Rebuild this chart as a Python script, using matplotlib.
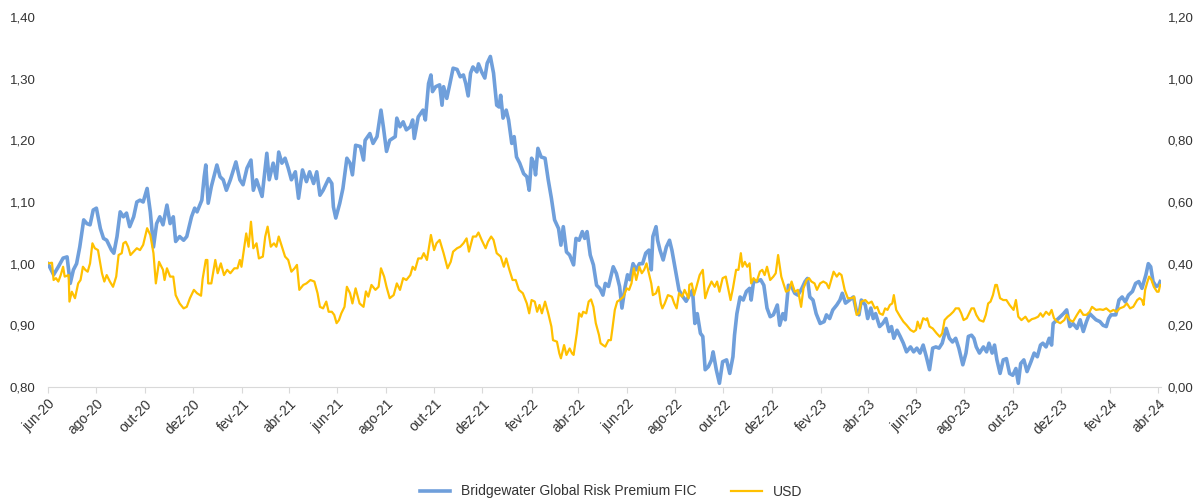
import matplotlib
matplotlib.use('Agg')
import matplotlib.pyplot as plt
import pandas as pd
import numpy as np

start = pd.Timestamp('2020-06-01')

# Bridgewater Global Risk Premium FIC (left axis): day offset from 2020-06-01, value
bw_days = [0, 7, 13, 19, 24, 28, 32, 36, 40, 45, 49, 53, 57, 61, 66, 70, 74, 80, 83, 87,
           91, 95, 99, 103, 108, 112, 116, 120, 125, 129, 133, 137, 141, 145, 150, 154, 158, 161, 166, 171,
           175, 181, 185, 188, 194, 197, 199, 202, 206, 213, 217, 221, 225, 230, 237, 242, 246, 251, 256, 259,
           263, 270, 276, 279, 284, 288, 291, 295, 299, 303, 307, 312, 316, 321, 326, 330, 335, 339, 343, 347,
           354, 358, 360, 363, 368, 372, 377, 381, 384, 388, 394, 398, 400, 406, 410, 415, 420, 423, 427, 431,
           438, 440, 444, 448, 452, 457, 460, 462, 467, 473, 476, 480, 483, 485, 489, 494, 497, 499, 503, 507,
           511, 516, 520, 524, 527, 530, 533, 536, 541, 543, 547, 551, 554, 558, 562, 566, 569, 571, 574, 578,
           581, 585, 588, 591, 595, 600, 604, 607, 610, 613, 615, 618, 622, 627, 631, 635, 639, 644, 647, 650,
           654, 658, 663, 666, 670, 674, 677, 680, 684, 688, 692, 696, 700, 703, 707, 710, 713, 717, 721, 724,
           728, 731, 734, 738, 742, 746, 750, 754, 758, 761, 763, 767, 769, 772, 776, 780, 784, 787, 790, 793,
           796, 800, 805, 809, 813, 816, 819, 823, 826, 829, 833, 837, 839, 843, 847, 851, 856, 860, 864, 866,
           869, 873, 877, 881, 885, 887, 890, 894, 899, 903, 907, 911, 915, 920, 923, 927, 930, 934, 938, 942,
           946, 951, 955, 958, 961, 965, 969, 974, 979, 982, 986, 990, 995, 999, 1002, 1006, 1011, 1016, 1020, 1023,
           1026, 1031, 1034, 1038, 1041, 1044, 1049, 1053, 1057, 1061, 1064, 1067, 1071, 1075, 1079, 1083, 1088, 1092, 1096, 1100,
           1104, 1108, 1112, 1116, 1120, 1124, 1128, 1133, 1137, 1141, 1145, 1149, 1154, 1158, 1161, 1165, 1168, 1171, 1175, 1180,
           1184, 1187, 1191, 1194, 1197, 1201, 1205, 1209, 1213, 1217, 1221, 1224, 1227, 1231, 1235, 1240, 1244, 1248, 1252, 1255,
           1259, 1263, 1266, 1268, 1273, 1277, 1281, 1285, 1289, 1293, 1298, 1302, 1306, 1310, 1314, 1318, 1322, 1327, 1331, 1335,
           1338, 1341, 1347, 1351, 1355, 1359, 1363, 1368, 1372, 1376, 1380, 1385, 1388, 1391, 1394, 1398, 1401, 1403]
bw_vals = [1.000, 0.982, 0.995, 1.009, 1.011, 0.968, 0.990, 1.000, 1.027, 1.071, 1.065, 1.063, 1.087, 1.090, 1.057, 1.041, 1.038, 1.022, 1.017, 1.044,
           1.084, 1.076, 1.082, 1.060, 1.076, 1.100, 1.103, 1.100, 1.122, 1.084, 1.027, 1.065, 1.076, 1.063, 1.095, 1.065, 1.076, 1.036, 1.044, 1.038,
           1.044, 1.076, 1.090, 1.084, 1.103, 1.141, 1.160, 1.098, 1.125, 1.160, 1.141, 1.136, 1.119, 1.136, 1.165, 1.136, 1.128, 1.155, 1.168, 1.119,
           1.136, 1.109, 1.179, 1.136, 1.163, 1.138, 1.181, 1.163, 1.171, 1.155, 1.136, 1.149, 1.106, 1.152, 1.133, 1.149, 1.130, 1.149, 1.111, 1.119,
           1.138, 1.130, 1.092, 1.074, 1.098, 1.122, 1.171, 1.163, 1.144, 1.192, 1.190, 1.168, 1.200, 1.211, 1.195, 1.206, 1.249, 1.222, 1.182, 1.200,
           1.206, 1.236, 1.222, 1.230, 1.217, 1.222, 1.233, 1.203, 1.238, 1.249, 1.233, 1.292, 1.306, 1.279, 1.287, 1.290, 1.257, 1.287, 1.268, 1.292,
           1.317, 1.315, 1.303, 1.306, 1.292, 1.272, 1.309, 1.319, 1.311, 1.324, 1.311, 1.301, 1.325, 1.336, 1.309, 1.257, 1.254, 1.273, 1.236, 1.249,
           1.233, 1.195, 1.206, 1.173, 1.163, 1.146, 1.141, 1.119, 1.171, 1.163, 1.144, 1.187, 1.173, 1.171, 1.136, 1.106, 1.071, 1.057, 1.030, 1.060,
           1.019, 1.014, 0.998, 1.041, 1.038, 1.052, 1.041, 1.052, 1.014, 0.998, 0.965, 0.960, 0.949, 0.968, 0.963, 0.979, 0.995, 0.984, 0.963, 0.928,
           0.963, 0.982, 0.974, 1.000, 0.990, 1.000, 1.000, 1.017, 1.022, 0.990, 1.044, 1.060, 1.038, 1.022, 1.006, 1.027, 1.038, 1.022, 1.000, 0.979,
           0.957, 0.948, 0.939, 0.949, 0.957, 0.903, 0.919, 0.887, 0.882, 0.828, 0.833, 0.844, 0.857, 0.828, 0.806, 0.841, 0.844, 0.822, 0.849, 0.884,
           0.919, 0.946, 0.941, 0.955, 0.960, 0.941, 0.971, 0.971, 0.974, 0.965, 0.928, 0.914, 0.917, 0.933, 0.900, 0.919, 0.909, 0.965, 0.963, 0.952,
           0.949, 0.960, 0.971, 0.976, 0.946, 0.941, 0.919, 0.903, 0.906, 0.917, 0.911, 0.925, 0.933, 0.941, 0.952, 0.936, 0.941, 0.946, 0.922, 0.917,
           0.941, 0.933, 0.911, 0.928, 0.911, 0.919, 0.898, 0.903, 0.911, 0.890, 0.898, 0.879, 0.892, 0.882, 0.871, 0.857, 0.865, 0.857, 0.863, 0.855,
           0.868, 0.849, 0.828, 0.863, 0.865, 0.863, 0.871, 0.895, 0.879, 0.873, 0.879, 0.863, 0.836, 0.855, 0.882, 0.884, 0.879, 0.865, 0.855, 0.865,
           0.857, 0.871, 0.855, 0.868, 0.844, 0.822, 0.844, 0.846, 0.822, 0.819, 0.830, 0.806, 0.838, 0.844, 0.825, 0.841, 0.855, 0.849, 0.868, 0.871,
           0.865, 0.879, 0.868, 0.903, 0.909, 0.914, 0.919, 0.925, 0.898, 0.903, 0.895, 0.909, 0.890, 0.906, 0.919, 0.914, 0.909, 0.906, 0.900, 0.898,
           0.911, 0.917, 0.917, 0.941, 0.946, 0.938, 0.949, 0.955, 0.968, 0.971, 0.960, 0.982, 1.000, 0.995, 0.971, 0.963, 0.965, 0.971]

# USD (right axis): day offset from 2020-06-01, value
usd_days = [0, 5, 7, 10, 13, 16, 19, 21, 26, 27, 30, 34, 38, 41, 44, 47, 50, 53, 56, 59,
            63, 68, 71, 74, 78, 82, 86, 89, 93, 95, 98, 101, 104, 108, 112, 116, 120, 125, 129, 133,
            136, 140, 145, 147, 150, 154, 158, 161, 166, 171, 175, 179, 184, 188, 193, 195, 199, 201, 202, 206,
            211, 214, 218, 222, 226, 230, 235, 239, 242, 244, 247, 250, 253, 256, 259, 263, 266, 271, 274, 277,
            281, 285, 288, 291, 295, 299, 303, 307, 311, 314, 317, 322, 326, 331, 336, 340, 343, 347, 351, 354,
            358, 361, 364, 367, 370, 374, 377, 381, 384, 388, 393, 398, 401, 404, 408, 413, 417, 420, 424, 427,
            431, 436, 440, 444, 448, 452, 457, 460, 463, 467, 471, 474, 478, 483, 487, 490, 494, 499, 504, 508,
            511, 516, 520, 524, 528, 531, 536, 540, 543, 547, 552, 555, 559, 562, 566, 571, 575, 578, 582, 586,
            590, 594, 599, 604, 607, 610, 614, 617, 620, 623, 627, 631, 635, 637, 642, 645, 647, 651, 654, 658,
            661, 663, 667, 670, 673, 675, 679, 682, 685, 688, 691, 695, 697, 700, 703, 707, 710, 712, 715, 718,
            721, 726, 730, 733, 736, 739, 742, 746, 749, 752, 755, 758, 761, 763, 767, 770, 773, 775, 778, 782,
            787, 790, 793, 796, 800, 803, 808, 809, 812, 815, 818, 822, 826, 829, 833, 837, 841, 844, 847, 851,
            855, 858, 861, 864, 868, 871, 874, 876, 879, 882, 885, 887, 890, 894, 898, 901, 904, 907, 911, 915,
            918, 921, 925, 927, 931, 935, 938, 942, 946, 950, 953, 957, 960, 963, 967, 970, 974, 978, 982, 985,
            988, 991, 995, 998, 1001, 1005, 1009, 1014, 1017, 1020, 1023, 1026, 1031, 1035, 1039, 1043, 1046, 1049, 1053, 1056,
            1059, 1062, 1065, 1067, 1070, 1075, 1079, 1083, 1088, 1092, 1095, 1097, 1100, 1104, 1108, 1109, 1112, 1116, 1121, 1125,
            1128, 1131, 1135, 1138, 1142, 1145, 1149, 1152, 1155, 1159, 1162, 1165, 1168, 1171, 1175, 1180, 1183, 1186, 1189, 1192,
            1195, 1197, 1201, 1205, 1209, 1213, 1218, 1221, 1224, 1228, 1233, 1237, 1241, 1245, 1249, 1252, 1255, 1259, 1263, 1266,
            1269, 1273, 1277, 1282, 1285, 1289, 1293, 1298, 1302, 1306, 1310, 1314, 1317, 1322, 1327, 1331, 1335, 1340, 1344, 1348,
            1352, 1357, 1361, 1365, 1369, 1374, 1377, 1380, 1382, 1384, 1387, 1389, 1392, 1395, 1399, 1401, 1403]
usd_vals = [0.401, 0.403, 0.347, 0.353, 0.342, 0.363, 0.390, 0.358, 0.363, 0.277, 0.309, 0.288, 0.336, 0.347, 0.390, 0.380, 0.374, 0.401, 0.466, 0.450,
            0.444, 0.369, 0.342, 0.363, 0.342, 0.325, 0.358, 0.428, 0.434, 0.466, 0.471, 0.455, 0.428, 0.439, 0.450, 0.444, 0.461, 0.515, 0.493, 0.434,
            0.336, 0.406, 0.380, 0.347, 0.385, 0.358, 0.358, 0.298, 0.271, 0.255, 0.260, 0.288, 0.315, 0.304, 0.296, 0.350, 0.412, 0.412, 0.336, 0.336,
            0.412, 0.369, 0.401, 0.363, 0.380, 0.369, 0.385, 0.385, 0.412, 0.390, 0.444, 0.498, 0.455, 0.536, 0.450, 0.466, 0.417, 0.423, 0.488, 0.520,
            0.455, 0.466, 0.455, 0.488, 0.455, 0.423, 0.412, 0.374, 0.385, 0.396, 0.315, 0.331, 0.336, 0.347, 0.342, 0.304, 0.260, 0.255, 0.277, 0.244,
            0.244, 0.234, 0.207, 0.217, 0.239, 0.260, 0.325, 0.304, 0.271, 0.320, 0.271, 0.260, 0.310, 0.293, 0.331, 0.315, 0.325, 0.385, 0.358, 0.325,
            0.288, 0.298, 0.336, 0.315, 0.353, 0.347, 0.363, 0.390, 0.380, 0.417, 0.417, 0.434, 0.412, 0.493, 0.444, 0.466, 0.477, 0.434, 0.385, 0.406,
            0.439, 0.450, 0.455, 0.466, 0.482, 0.439, 0.488, 0.488, 0.501, 0.477, 0.450, 0.471, 0.488, 0.477, 0.434, 0.423, 0.390, 0.417, 0.380, 0.347,
            0.347, 0.315, 0.304, 0.271, 0.239, 0.282, 0.277, 0.244, 0.266, 0.239, 0.277, 0.239, 0.196, 0.152, 0.147, 0.109, 0.093, 0.136, 0.104, 0.125,
            0.109, 0.104, 0.174, 0.239, 0.228, 0.244, 0.239, 0.277, 0.284, 0.260, 0.207, 0.169, 0.142, 0.136, 0.131, 0.152, 0.152, 0.190, 0.250, 0.277,
            0.282, 0.293, 0.320, 0.315, 0.336, 0.385, 0.347, 0.390, 0.369, 0.380, 0.401, 0.369, 0.336, 0.298, 0.304, 0.325, 0.271, 0.255, 0.271, 0.298,
            0.293, 0.271, 0.255, 0.304, 0.293, 0.315, 0.288, 0.331, 0.336, 0.298, 0.325, 0.363, 0.380, 0.288, 0.320, 0.342, 0.325, 0.342, 0.309, 0.353,
            0.358, 0.320, 0.282, 0.320, 0.380, 0.380, 0.434, 0.390, 0.406, 0.390, 0.401, 0.336, 0.353, 0.342, 0.374, 0.380, 0.363, 0.390, 0.347, 0.358,
            0.369, 0.428, 0.358, 0.342, 0.309, 0.315, 0.342, 0.309, 0.315, 0.260, 0.320, 0.347, 0.353, 0.342, 0.336, 0.315, 0.336, 0.342, 0.336, 0.320,
            0.347, 0.374, 0.358, 0.369, 0.363, 0.315, 0.288, 0.288, 0.293, 0.234, 0.239, 0.277, 0.282, 0.271, 0.277, 0.255, 0.260, 0.239, 0.234, 0.255,
            0.250, 0.266, 0.271, 0.298, 0.250, 0.228, 0.212, 0.201, 0.185, 0.179, 0.185, 0.212, 0.190, 0.223, 0.217, 0.223, 0.196, 0.190, 0.174, 0.163,
            0.174, 0.217, 0.228, 0.234, 0.244, 0.255, 0.255, 0.239, 0.217, 0.223, 0.239, 0.255, 0.255, 0.234, 0.217, 0.212, 0.234, 0.271, 0.277, 0.298,
            0.331, 0.331, 0.288, 0.282, 0.282, 0.266, 0.250, 0.282, 0.228, 0.217, 0.228, 0.212, 0.220, 0.223, 0.228, 0.239, 0.228, 0.244, 0.234, 0.250,
            0.223, 0.212, 0.207, 0.217, 0.234, 0.217, 0.212, 0.234, 0.250, 0.234, 0.234, 0.244, 0.260, 0.250, 0.252, 0.250, 0.255, 0.244, 0.250, 0.244,
            0.255, 0.260, 0.271, 0.255, 0.260, 0.282, 0.288, 0.282, 0.266, 0.315, 0.342, 0.358, 0.347, 0.325, 0.309, 0.309, 0.331]

month_pt = {6: 'jun', 8: 'ago', 10: 'out', 12: 'dez', 2: 'fev', 4: 'abr'}

bw_dates = start + pd.to_timedelta(bw_days, unit='D')
usd_dates = start + pd.to_timedelta(usd_days, unit='D')

tick_dates = pd.date_range('2020-06-01', '2024-04-01', freq='2MS')
tick_labels = [month_pt[d.month] + '-' + d.strftime('%y') for d in tick_dates]

plt.rcParams['font.family'] = ['Liberation Sans', 'DejaVu Sans']
txt = '#333333'

fig = plt.figure(figsize=(11.98, 5.0), dpi=100)
ax = fig.add_axes([0.0401, 0.226, 0.929, 0.74])
ax2 = ax.twinx()

l1, = ax.plot(bw_dates, bw_vals, color='#6f9fdb', lw=2.6, solid_joinstyle='round',
              label='Bridgewater Global Risk Premium FIC')
l2, = ax2.plot(usd_dates, usd_vals, color='#ffc000', lw=1.6, solid_joinstyle='round', label='USD')

ax.set_xlim(start, start + pd.Timedelta(days=1404))
ax.set_ylim(0.80, 1.40)
ax2.set_ylim(0.0, 1.20)
ax.set_yticks(np.arange(0.80, 1.401, 0.10))
ax2.set_yticks(np.arange(0.0, 1.201, 0.20))
ax.set_yticklabels([f'{v:.2f}'.replace('.', ',') for v in np.arange(0.80, 1.401, 0.10)])
ax2.set_yticklabels([f'{v:.2f}'.replace('.', ',') for v in np.arange(0.0, 1.201, 0.20)])

ax.set_xticks(tick_dates)
ax.set_xticklabels(tick_labels, rotation=45, ha='right', rotation_mode='anchor')

for a in (ax, ax2):
    for s in ('top', 'left', 'right'):
        a.spines[s].set_visible(False)
    a.spines['bottom'].set_color('#d9d9d9')
    a.tick_params(axis='y', length=0, labelsize=9.5, colors=txt)
ax2.spines['bottom'].set_visible(False)
ax.tick_params(axis='x', length=4, color='#d9d9d9', labelsize=10, labelcolor=txt, pad=3)
ax.tick_params(axis='y', pad=9)
ax2.tick_params(axis='y', pad=5)

fig.legend(handles=[l1, l2], loc='lower center', bbox_to_anchor=(0.51, -0.022), ncol=2,
           frameon=False, fontsize=10, handlelength=2.2, columnspacing=2.5, labelcolor=txt)

fig.savefig('out.png', dpi=100)
